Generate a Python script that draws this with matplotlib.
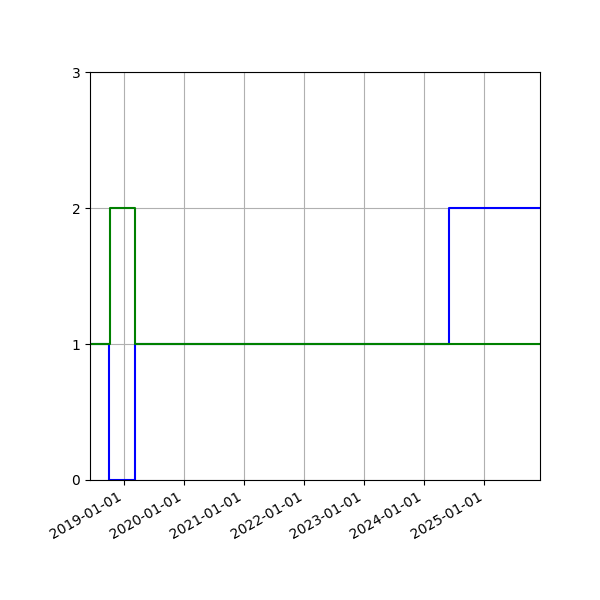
import matplotlib
matplotlib.use('Agg')
import matplotlib.pyplot as plt
import matplotlib.dates as mdates
import numpy as np

# Change points (value holds until the next date)
blue_dates = np.array(['2018-06-06', '2018-09-27', '2019-03-07', '2024-05-30', '2025-12-06'], dtype='datetime64[D]')
blue_vals = [1, 0, 1, 2, 2]

green_dates = np.array(['2018-06-06', '2018-10-06', '2019-03-07', '2025-12-06'], dtype='datetime64[D]')
green_vals = [1, 2, 1, 1]

fig, ax = plt.subplots(figsize=(6, 6), dpi=100)

ax.plot(blue_dates, blue_vals, color='blue', drawstyle='steps-post')
ax.plot(green_dates, green_vals, color='green', drawstyle='steps-post')

ax.set_xlim(np.datetime64('2018-06-06'), np.datetime64('2025-12-06'))
ax.set_ylim(0, 3)
ax.set_yticks([0, 1, 2, 3])
ax.xaxis.set_major_locator(mdates.YearLocator())
ax.xaxis.set_major_formatter(mdates.DateFormatter('%Y-%m-%d'))
ax.grid(True)

fig.autofmt_xdate()
fig.subplots_adjust(left=0.15, right=0.9, top=0.88, bottom=0.2)

plt.savefig('out.png')
